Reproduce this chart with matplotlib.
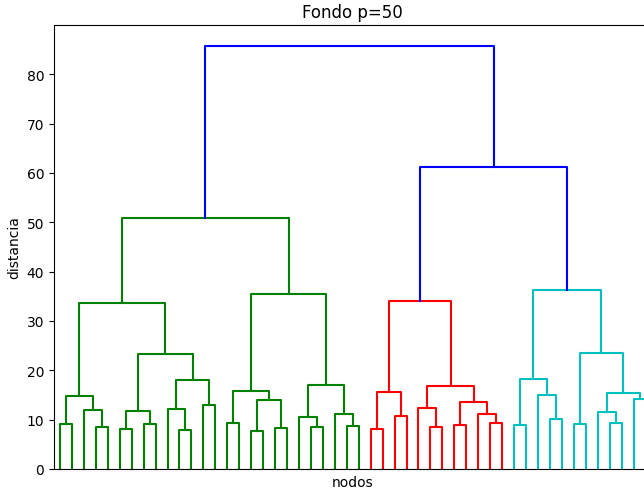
import numpy as np
import matplotlib.pyplot as plt

# merges: (left, right, height); ids 0..49 are leaves, 50+ are clusters in creation order
n_leaves = 50
merges = [
    # green block
    (0, 1, 9.1), (3, 4, 8.5), (2, 51, 12.0), (50, 52, 14.7),
    (5, 6, 8.2), (7, 8, 9.1), (54, 55, 11.8),
    (10, 11, 8.0), (9, 57, 12.2), (12, 13, 13.0), (58, 59, 18.0),
    (56, 60, 23.3), (53, 61, 33.6),
    (14, 15, 9.25), (16, 17, 7.7), (18, 19, 8.3), (64, 65, 14.0), (63, 66, 15.9),
    (21, 22, 8.5), (20, 68, 10.6), (24, 25, 8.7), (23, 70, 11.2), (69, 71, 17.1),
    (67, 72, 35.4), (62, 73, 50.8),
    # red block
    (26, 27, 8.2), (28, 29, 10.8), (75, 76, 15.6),
    (31, 32, 8.5), (30, 78, 12.4), (33, 34, 8.9), (36, 37, 9.4), (35, 81, 11.2),
    (80, 82, 13.6), (79, 83, 16.9), (77, 84, 34.0),
    # cyan block
    (38, 39, 8.85), (41, 42, 10.1), (40, 87, 14.9), (86, 88, 18.2),
    (43, 44, 9.1), (46, 47, 9.25), (45, 91, 11.6), (48, 49, 14.1), (92, 93, 15.5),
    (90, 94, 23.5), (89, 95, 36.3),
    # top links
    (85, 96, 61.3), (74, 97, 85.7),
]
palette = ['g', 'r', 'c', 'm', 'y', 'k']
above_color = 'b'

heights = {n_leaves + k: m[2] for k, m in enumerate(merges)}
children = {n_leaves + k: (m[0], m[1]) for k, m in enumerate(merges)}
root = n_leaves + len(merges) - 1
max_h = heights[root]
threshold = 0.7 * max_h


def pos(node):
    # x position of a node (leaf spacing 10, first leaf at 5)
    if node < n_leaves:
        return 5 + 10 * node
    a, b = children[node]
    return (pos(a) + pos(b)) / 2


def height(node):
    return heights.get(node, 0.0)


links = []
color_idx = [0]


def walk(node, color=None):
    if node < n_leaves:
        return
    h = heights[node]
    if color is None and h < threshold:
        color = palette[color_idx[0] % len(palette)]
        color_idx[0] += 1
    a, b = children[node]
    walk(a, color)
    walk(b, color)
    links.append(([pos(a), pos(a), pos(b), pos(b)],
                  [height(a), h, h, height(b)],
                  color if color is not None else above_color))


walk(root)

fig = plt.figure(figsize=(6.44, 4.89), dpi=100)
ax = fig.add_axes([54 / 644, 19 / 489, 597.5 / 644, 444 / 489])
for xs, ys, c in links:
    ax.plot(xs, ys, color=c, linewidth=1.5)

ax.set_xlim(0, 10 * n_leaves)
ax.set_ylim(0, max_h * 1.05)
ax.set_xticks([])
ax.set_title('Fondo p=50')
ax.set_xlabel('nodos')
ax.set_ylabel('distancia')

fig.savefig('out.png', dpi=100)
